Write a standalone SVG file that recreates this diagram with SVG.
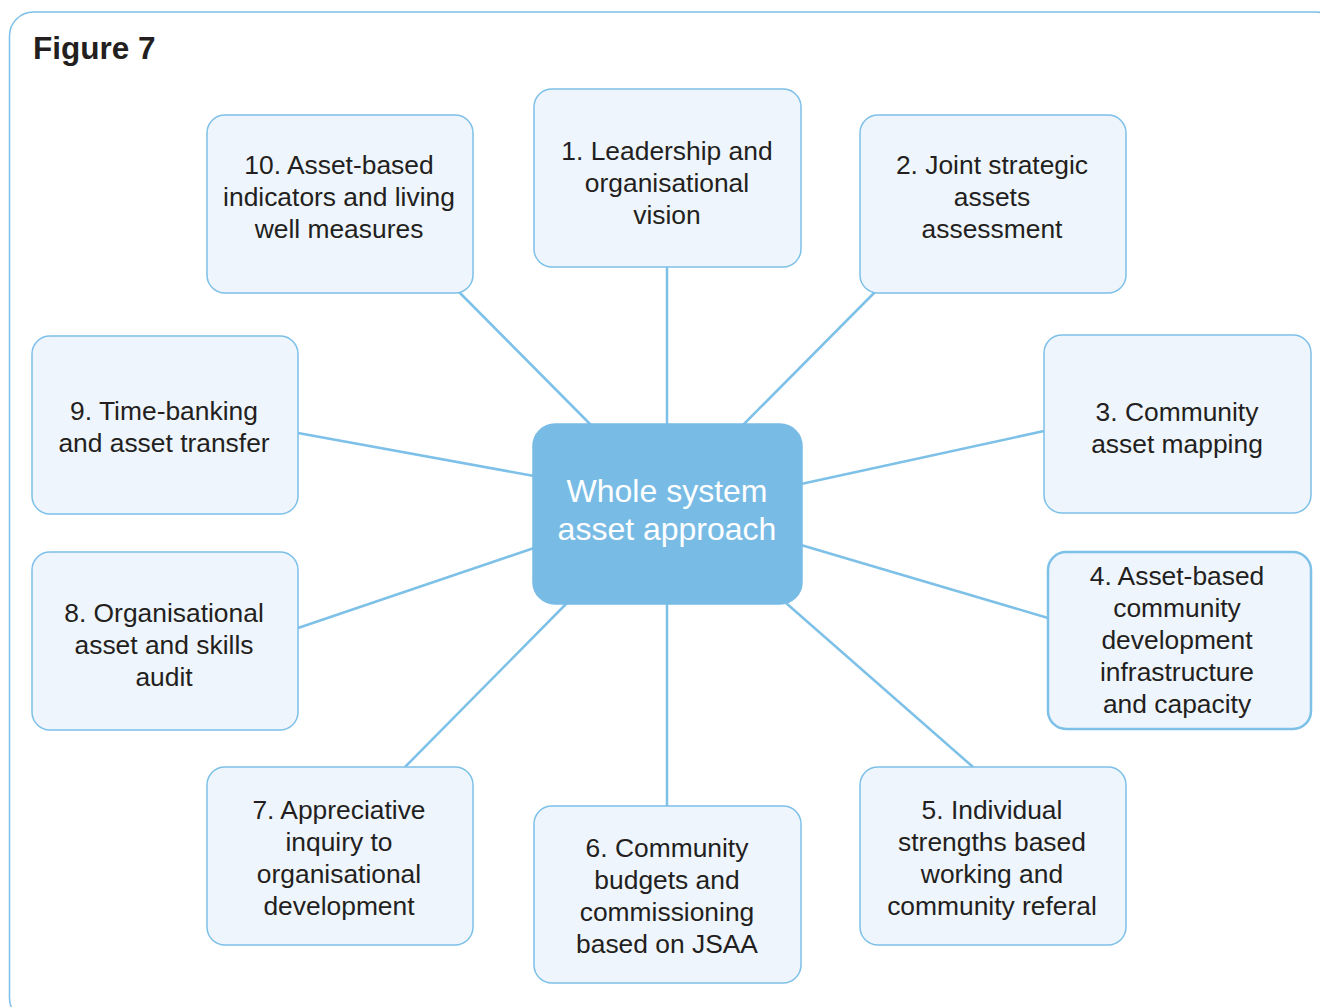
<svg xmlns="http://www.w3.org/2000/svg" width="1320" height="1007" viewBox="0 0 1320 1007">
<style>
.frame{fill:#ffffff;stroke:#7dc0e8;stroke-width:1.5}
.box{fill:#eff5fc;stroke:#7dc0e8;stroke-width:1.5}
.box.strong{stroke-width:2.5}
.hub{fill:#78bce6;stroke:#78bce6;stroke-width:1.5}
.conn line{stroke:#7dc0e8;stroke-width:2.5}
text{font-family:"Liberation Sans",Arial,sans-serif}
.t{font-size:26.4px;fill:#231f20;text-anchor:middle}
.h{font-size:32px;fill:#ffffff;text-anchor:middle}
.title{font-size:31.5px;font-weight:bold;fill:#231f20}
</style>
<rect class="frame" x="9.5" y="12" width="1330" height="1010" rx="24"/>
<text class="title" x="33" y="59">Figure 7</text>
<g id="connectors" class="conn">
<line x1="459" y1="292" x2="591" y2="425"/>
<line x1="667" y1="267" x2="667" y2="425"/>
<line x1="875" y1="292" x2="743" y2="425"/>
<line x1="1044" y1="431" x2="801" y2="484"/>
<line x1="1048" y1="618" x2="801" y2="545"/>
<line x1="973" y1="767" x2="786" y2="603"/>
<line x1="667" y1="603" x2="667" y2="806"/>
<line x1="405" y1="767" x2="567" y2="603"/>
<line x1="298" y1="628" x2="534" y2="548"/>
<line x1="298" y1="433" x2="534" y2="476"/>
</g>
<g id="hub">
<rect class="hub" x="533" y="424" width="269" height="180" rx="22"/>
<text class="h" x="667" y="502">Whole system</text>
<text class="h" x="667" y="540">asset approach</text>
</g>
<g id="n10">
<rect class="box" x="207" y="115" width="266" height="178" rx="18"/>
<text class="t" x="339" y="174">10. Asset-based</text>
<text class="t" x="339" y="206">indicators and living</text>
<text class="t" x="339" y="238">well measures</text>
</g>
<g id="n1">
<rect class="box" x="534" y="89" width="267" height="178" rx="18"/>
<text class="t" x="667" y="160">1. Leadership and</text>
<text class="t" x="667" y="192">organisational</text>
<text class="t" x="667" y="224">vision</text>
</g>
<g id="n2">
<rect class="box" x="860" y="115" width="266" height="178" rx="18"/>
<text class="t" x="992" y="174">2. Joint strategic</text>
<text class="t" x="992" y="206">assets</text>
<text class="t" x="992" y="238">assessment</text>
</g>
<g id="n3">
<rect class="box" x="1044" y="335" width="267" height="178" rx="18"/>
<text class="t" x="1177" y="421">3. Community</text>
<text class="t" x="1177" y="453">asset mapping</text>
</g>
<g id="n4">
<rect class="box strong" x="1048" y="552" width="263" height="177" rx="18"/>
<text class="t" x="1177" y="585">4. Asset-based</text>
<text class="t" x="1177" y="617">community</text>
<text class="t" x="1177" y="649">development</text>
<text class="t" x="1177" y="681">infrastructure</text>
<text class="t" x="1177" y="713">and capacity</text>
</g>
<g id="n5">
<rect class="box" x="860" y="767" width="266" height="178" rx="18"/>
<text class="t" x="992" y="819">5. Individual</text>
<text class="t" x="992" y="851">strengths based</text>
<text class="t" x="992" y="883">working and</text>
<text class="t" x="992" y="915">community referal</text>
</g>
<g id="n6">
<rect class="box" x="534" y="806" width="267" height="177" rx="18"/>
<text class="t" x="667" y="857">6. Community</text>
<text class="t" x="667" y="889">budgets and</text>
<text class="t" x="667" y="921">commissioning</text>
<text class="t" x="667" y="953">based on JSAA</text>
</g>
<g id="n7">
<rect class="box" x="207" y="767" width="266" height="178" rx="18"/>
<text class="t" x="339" y="819">7. Appreciative</text>
<text class="t" x="339" y="851">inquiry to</text>
<text class="t" x="339" y="883">organisational</text>
<text class="t" x="339" y="915">development</text>
</g>
<g id="n8">
<rect class="box" x="32" y="552" width="266" height="178" rx="18"/>
<text class="t" x="164" y="622">8. Organisational</text>
<text class="t" x="164" y="654">asset and skills</text>
<text class="t" x="164" y="686">audit</text>
</g>
<g id="n9">
<rect class="box" x="32" y="336" width="266" height="178" rx="18"/>
<text class="t" x="164" y="420">9. Time-banking</text>
<text class="t" x="164" y="452">and asset transfer</text>
</g>
</svg>
